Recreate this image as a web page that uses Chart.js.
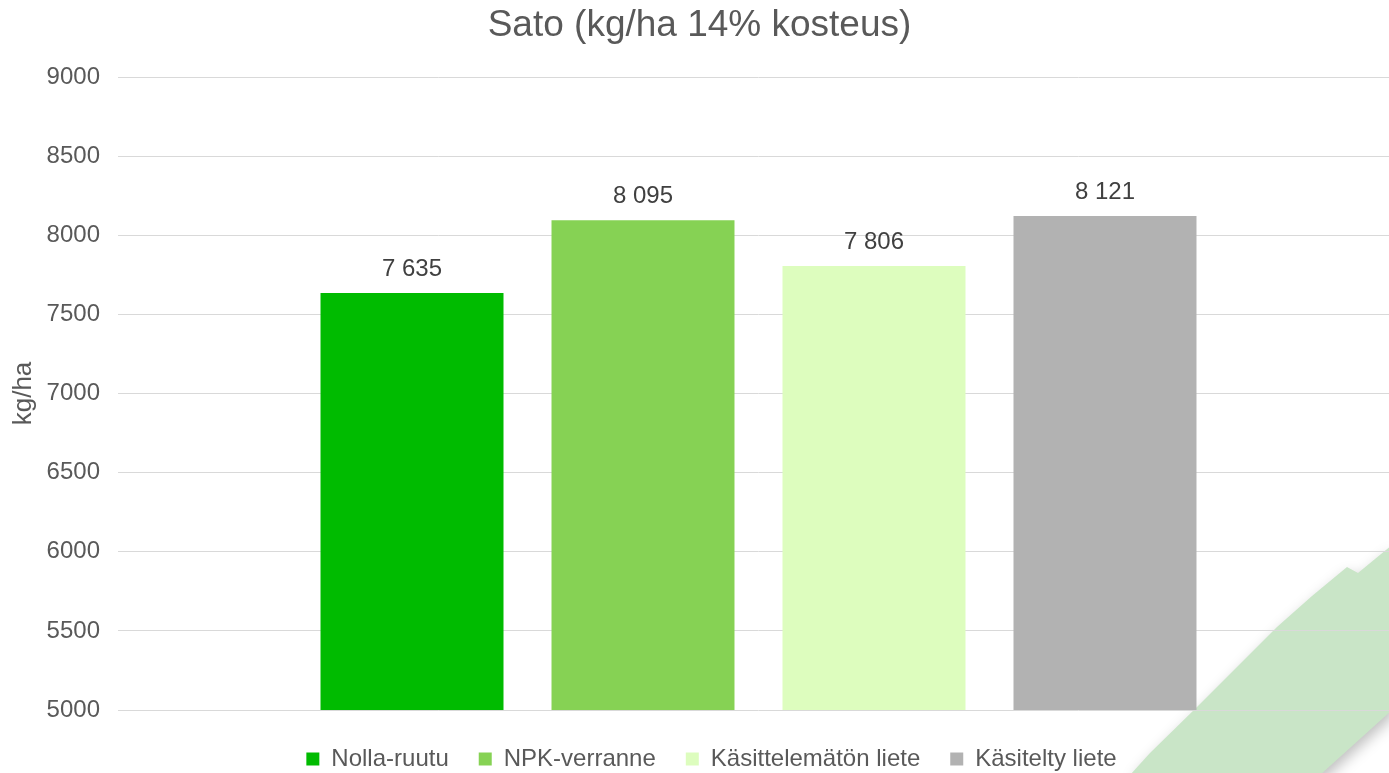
<!DOCTYPE html>
<html>
<head>
<meta charset="utf-8">
<script src="https://cdn.jsdelivr.net/npm/chart.js@4.4.1/dist/chart.umd.min.js"></script>
<style>
  html, body { margin: 0; padding: 0; background: #ffffff; overflow: hidden; }
  #wrap { width: 1399px; height: 773px; }
</style>
</head>
<body>
<div id="wrap"><canvas id="c" width="1399" height="773"></canvas></div>
<script>
// Yield (kg/ha at 14 % moisture) per treatment
const categories = [''];
const seriesNames = ['Nolla-ruutu', 'NPK-verranne', 'Käsittelemätön liete', 'Käsitelty liete'];
const seriesValues = [7635, 8095, 7806, 8121];
const seriesColors = ['#00bb00', '#86d254', '#ddfdbe', '#b2b2b2'];
const yMin = 5000;
const yMax = 9000;
const yStep = 500;

const FONT = "'Liberation Sans', Arial, sans-serif";

// "8095" -> "8 095"
function fmt(v) {
  return String(v).replace(/\B(?=(\d{3})+(?!\d))/g, ' ');
}

// Soft green ribbon in the lower right corner, drawn behind the grid
const cornerDecor = {
  id: 'cornerDecor',
  beforeDraw(chart) {
    const ctx = chart.ctx;
    ctx.save();
    ctx.shadowColor = 'rgba(0,0,0,0.25)';
    ctx.shadowBlur = 14;
    ctx.shadowOffsetX = 2;
    ctx.shadowOffsetY = 6;
    ctx.fillStyle = '#c9e5c7';
    ctx.beginPath();
    ctx.moveTo(1130, 775);
    ctx.lineTo(1150, 753);
    ctx.lineTo(1197, 707);
    ctx.lineTo(1240, 664);
    ctx.lineTo(1277, 627);
    ctx.lineTo(1312, 596);
    ctx.lineTo(1347, 567);
    ctx.lineTo(1358, 573);
    ctx.lineTo(1392, 545);
    ctx.lineTo(1392, 710);
    ctx.lineTo(1320, 775);
    ctx.closePath();
    ctx.fill();
    ctx.restore();
  }
};

// Value labels above each bar
const valueLabels = {
  id: 'valueLabels',
  afterDatasetsDraw(chart) {
    const ctx = chart.ctx;
    ctx.save();
    ctx.font = '24px ' + FONT;
    ctx.fillStyle = '#404040';
    ctx.textAlign = 'center';
    ctx.textBaseline = 'middle';
    chart.data.datasets.forEach((ds, i) => {
      const meta = chart.getDatasetMeta(i);
      meta.data.forEach((bar, j) => {
        ctx.fillText(fmt(ds.data[j]), bar.x, bar.y - 24);
      });
    });
    ctx.restore();
  }
};

// Fixed legend band height below the plot, nudged right a little
const legendBand = {
  id: 'legendBand',
  beforeUpdate(chart) {
    const lg = chart.legend;
    if (lg && !lg._fixedFit) {
      const orig = lg.fit;
      lg.fit = function () { orig.call(this); this.height = 56; };
      lg._fixedFit = true;
    }
  },
  afterLayout(chart) {
    const lg = chart.legend;
    if (lg) { lg.left += 12; lg.right += 12; }
  }
};

new Chart(document.getElementById('c'), {
  type: 'bar',
  data: {
    labels: categories,
    datasets: seriesNames.map((name, i) => ({
      label: name,
      data: [seriesValues[i]],
      backgroundColor: seriesColors[i],
      borderWidth: 0,
      categoryPercentage: 0.7213,
      barPercentage: 0.7922
    }))
  },
  options: {
    responsive: false,
    animation: false,
    devicePixelRatio: 1,
    layout: { padding: { left: 0, right: 0, top: 0, bottom: 0 } },
    plugins: {
      title: {
        display: true,
        text: 'Sato (kg/ha 14% kosteus)',
        color: '#595959',
        font: { family: FONT, size: 37, weight: 'normal' },
        padding: { top: 4, bottom: 28.6 }
      },
      legend: {
        display: true,
        position: 'bottom',
        labels: {
          color: '#595959',
          font: { family: FONT, size: 24 },
          boxWidth: 13,
          boxHeight: 13,
          padding: 30
        }
      },
      tooltip: { enabled: false }
    },
    scales: {
      x: {
        display: true,
        ticks: { display: false },
        grid: { display: false, drawTicks: false },
        border: { display: false },
        afterFit(scale) { scale.height = 7; }
      },
      y: {
        min: yMin,
        max: yMax,
        ticks: {
          stepSize: yStep,
          color: '#595959',
          font: { family: FONT, size: 24 },
          padding: 18,
          callback: (v) => String(v)
        },
        grid: { color: '#d9d9d9', lineWidth: 1, drawTicks: false },
        border: { display: false },
        title: {
          display: true,
          text: 'kg/ha',
          color: '#595959',
          font: { family: FONT, size: 26 },
          padding: { top: 8, bottom: 8 }
        },
        afterFit(scale) { scale.width = 118; }
      }
    }
  },
  plugins: [cornerDecor, valueLabels, legendBand]
});
</script>
</body>
</html>
